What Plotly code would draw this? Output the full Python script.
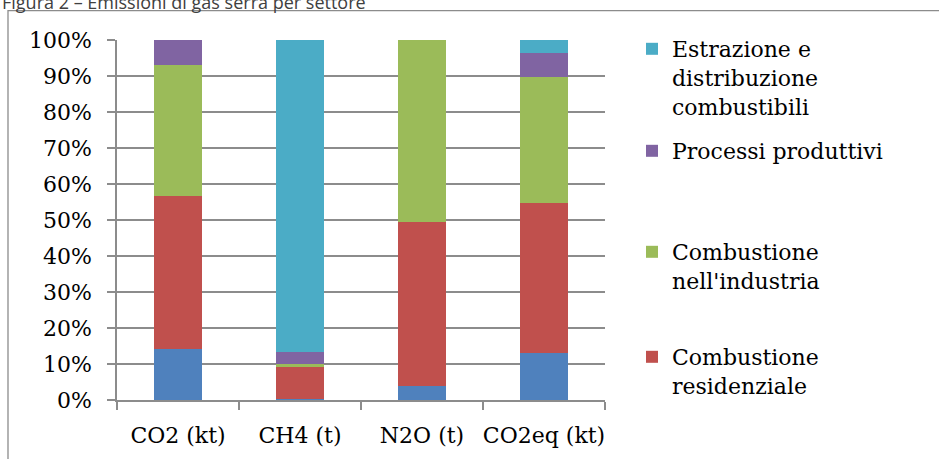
import plotly.graph_objects as go

categories = ["CO2 (kt)", "CH4 (t)", "N2O (t)", "CO2eq (kt)"]
altro = [14.1, 0.4, 4.0, 13.1]
comb_residenziale = [42.7, 8.8, 45.5, 41.6]
comb_industria = [36.3, 0.8, 50.5, 35.1]
processi = [6.9, 3.2, 0.0, 6.5]
estrazione = [0.0, 86.8, 0.0, 3.7]

series = [
    ("Altre sorgenti", altro, "#4F81BD", None),
    ("Combustione<br>residenziale", comb_residenziale, "#C0504D", "legend4"),
    ("Combustione<br>nell'industria", comb_industria, "#9BBB59", "legend3"),
    ("Processi produttivi", processi, "#8064A2", "legend2"),
    ("Estrazione e<br>distribuzione<br>combustibili", estrazione, "#4BACC6", "legend"),
]

W, H = 939, 459
L, R, T, B = 117, 334, 40, 59
pw, ph = W - L - R, H - T - B

def px_x(p):
    return (p - L) / pw

def px_y(p):
    return (H - B - p) / ph

fig = go.Figure()
for name, vals, color, leg in series:
    fig.add_trace(go.Bar(
        x=categories, y=vals, name=name,
        marker=dict(color=color, line=dict(width=0)),
        showlegend=leg is not None,
        legend=leg if leg else "legend",
    ))

axis_col = "#8c8c8c"
font_serif = "DejaVu Serif"
legend_common = dict(
    font=dict(family=font_serif, size=22, color="#000000"),
    bgcolor="rgba(0,0,0,0)", valign="top", xanchor="left", yanchor="top",
    itemclick=False, itemdoubleclick=False,
)
leg_x = px_x(632)
fig.update_layout(
    width=W, height=H,
    margin=dict(l=L, r=R, t=T, b=B, pad=0, autoexpand=False),
    barmode="stack", bargap=0.6,
    plot_bgcolor="white", paper_bgcolor="white",
    legend=dict(x=leg_x, y=px_y(28), **legend_common),
    legend2=dict(x=leg_x, y=px_y(130), **legend_common),
    legend3=dict(x=leg_x, y=px_y(231), **legend_common),
    legend4=dict(x=leg_x, y=px_y(336), **legend_common),
    xaxis=dict(
        type="category", showline=True, linecolor=axis_col, linewidth=1.5,
        ticks="outside", ticklen=8, tickwidth=1.5, tickcolor=axis_col,
        tickson="boundaries", showgrid=False, ticklabelstandoff=15,
        tickangle=0, automargin=False,
        tickfont=dict(family=font_serif, size=22, color="#000000"),
    ),
    yaxis=dict(
        range=[0, 100], dtick=10, ticksuffix="%",
        showline=True, linecolor=axis_col, linewidth=1.5,
        ticks="outside", ticklen=8, tickwidth=1.5, tickcolor=axis_col,
        showgrid=True, gridcolor=axis_col, gridwidth=1.5, zeroline=False,
        ticklabelstandoff=11, automargin=False,
        tickfont=dict(family=font_serif, size=22, color="#000000"),
    ),
    shapes=[dict(
        type="rect", xref="paper", yref="paper",
        x0=px_x(8), x1=px_x(960), y0=px_y(480), y1=px_y(10.7),
        line=dict(color="#8c8c8c", width=1.3), fillcolor="rgba(0,0,0,0)",
        layer="below",
    )],
    annotations=[dict(
        text="Figura 2 – Emissioni di gas serra per settore",
        xref="paper", yref="paper", x=px_x(0), y=px_y(2.5),
        xanchor="left", yanchor="middle", showarrow=False,
        font=dict(family="Open Sans", size=18, color="#404040"),
    )],
)

fig.write_html(
    "out.html",
    config={"displayModeBar": False},
    post_script="document.body.style.margin='0';document.body.style.overflow='hidden';",
)
